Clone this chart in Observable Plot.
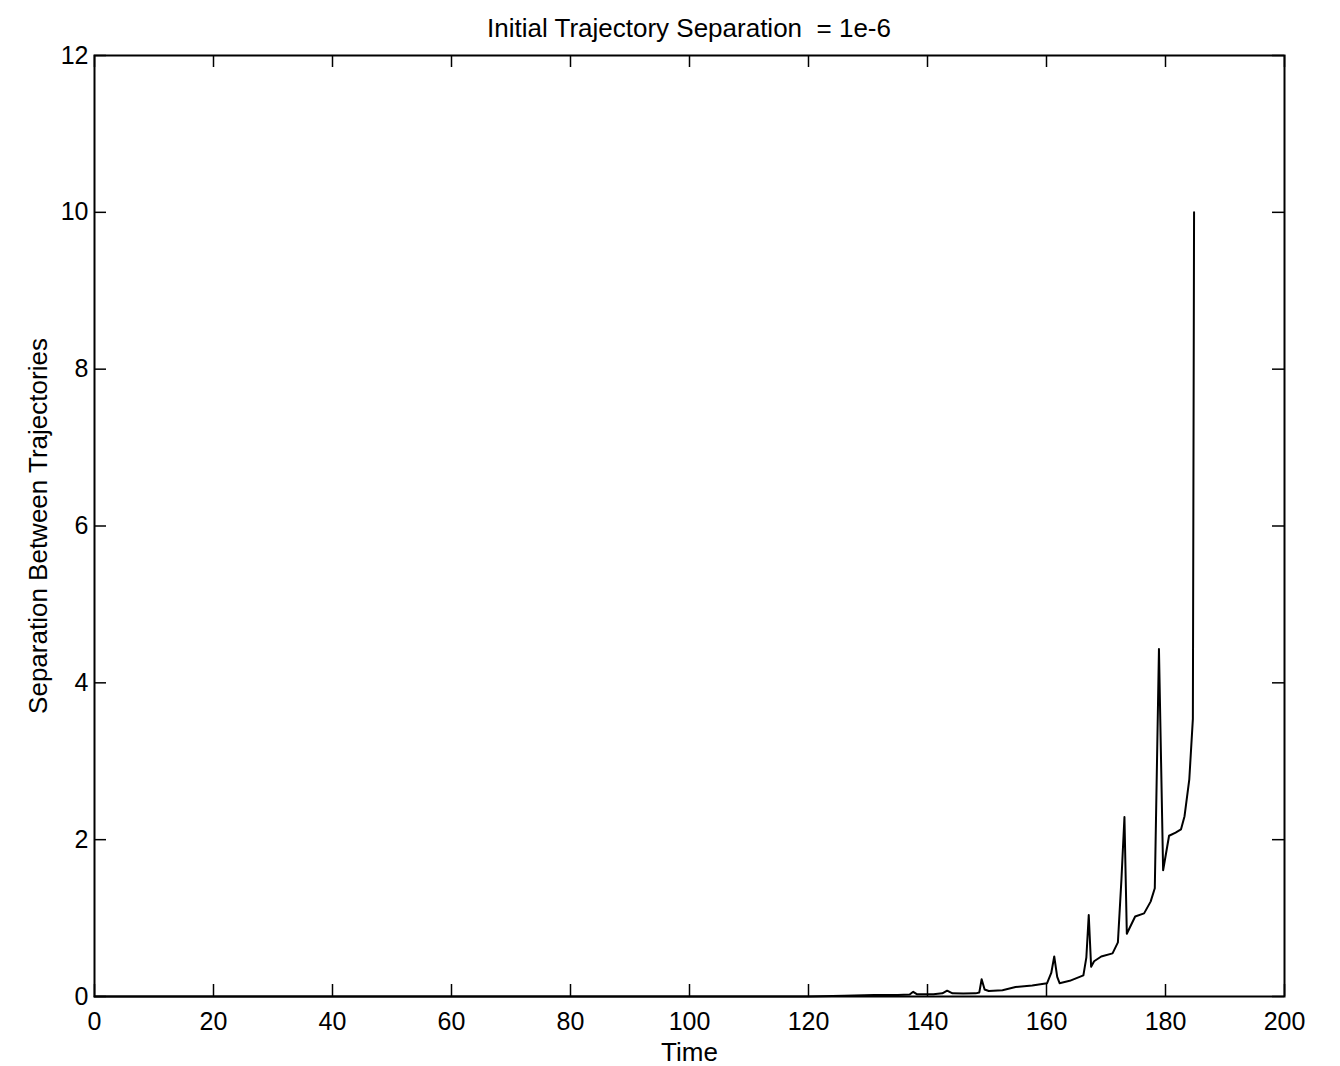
<!DOCTYPE html>
<html><head><meta charset="utf-8">
<script src="https://cdn.jsdelivr.net/npm/d3@7"></script>
<script src="https://cdn.jsdelivr.net/npm/@observablehq/plot@0.6"></script>
<style>
html,body{margin:0;padding:0;background:#fff;}
#title{width:1340px;height:40px;font-family:"Liberation Sans",Arial,sans-serif;font-size:26px;line-height:56px;text-align:center;color:#000;padding-left:38px;box-sizing:border-box;white-space:pre;overflow:visible;}
</style></head><body>
<div id="title">Initial Trajectory Separation  = 1e-6</div>
<div id="chart"></div>
<script>
const time = [0,20,40,60,80,100,120,126,131,135,137.0,137.6,138.2,141,142.5,143.3,144.2,146,148.1,148.7,149.1,149.6,150.3,152.6,154.8,157.6,160.1,160.8,161.3,161.8,162.2,163.9,166.2,166.7,167.1,167.5,168,169.2,171.1,172.0,172.6,173.1,173.5,174.9,176.4,177.5,178.2,178.9,179.6,180.6,181.7,182.6,183.2,184.0,184.6,184.8];
const separation = [0,0,0,0,0,0,0,0.01,0.02,0.02,0.025,0.06,0.03,0.03,0.04,0.074,0.04,0.037,0.04,0.05,0.22,0.09,0.07,0.08,0.12,0.14,0.17,0.3,0.51,0.25,0.17,0.2,0.27,0.5,1.04,0.38,0.45,0.51,0.55,0.69,1.5,2.29,0.80,1.02,1.06,1.21,1.38,4.43,1.61,2.05,2.09,2.13,2.30,2.77,3.54,10.0];
const xTicks = [0,20,40,60,80,100,120,140,160,180,200];
const yTicks = [0,2,4,6,8,10,12];
const xLabel = "Time";
const yLabel = "Separation Between Trajectories";

const data = time.map((t, i) => ({t, s: separation[i]}));
const W = 1340, H = 1026, mL = 94, mR = 56, mT = 15, mB = 70;
const innerW = W - mL - mR, innerH = H - mT - mB, tick = 12;

const plot = Plot.plot({
  width: W, height: H,
  marginLeft: mL, marginRight: mR, marginTop: mT, marginBottom: mB,
  style: {fontFamily: "'Liberation Sans', Arial, sans-serif", fontSize: "25px", color: "#000", background: "#fff", overflow: "visible"},
  x: {domain: [0, 200]},
  y: {domain: [0, 12]},
  marks: [
    Plot.tickX(xTicks, {x: d => d, stroke: "#000", strokeWidth: 1.5, insetTop: innerH - tick}),
    Plot.tickX(xTicks, {x: d => d, stroke: "#000", strokeWidth: 1.5, insetBottom: innerH - tick}),
    Plot.tickY(yTicks, {y: d => d, stroke: "#000", strokeWidth: 1.5, insetRight: innerW - tick}),
    Plot.tickY(yTicks, {y: d => d, stroke: "#000", strokeWidth: 1.5, insetLeft: innerW - tick}),
    Plot.axisX({anchor: "bottom", ticks: xTicks, tickSize: 0, tickPadding: 16, fontSize: 25, label: null}),
    Plot.axisY({anchor: "left", ticks: yTicks, tickSize: 0, tickPadding: 6, fontSize: 25, label: null}),
    Plot.axisX({anchor: "bottom", ticks: [], tickSize: 0, fontSize: 26, label: xLabel, labelAnchor: "center", labelArrow: "none", labelOffset: 64}),
    Plot.axisY({anchor: "left", ticks: [], tickSize: 0, fontSize: 26, label: yLabel, labelAnchor: "center", labelArrow: "none", labelOffset: 66}),
    Plot.line(data, {x: "t", y: "s", stroke: "#000", strokeWidth: 2}),
    Plot.frame({stroke: "#000", strokeWidth: 2})
  ]
});
document.getElementById("chart").appendChild(plot);
</script>
</body></html>
